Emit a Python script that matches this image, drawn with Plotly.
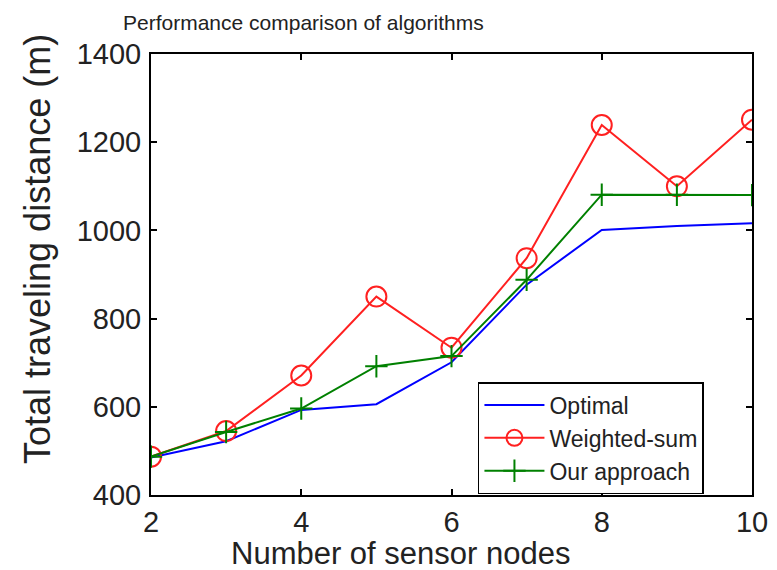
import plotly.graph_objects as go

nodes = [2, 3, 4, 5, 6, 7, 8, 9, 10]
optimal = [485, 522, 593, 606, 701, 877, 1001, 1010, 1016]
weighted_sum = [487, 545, 671, 850, 734, 937, 1239, 1100, 1251]
our_approach = [487, 543, 596, 692, 715, 888, 1081, 1081, 1080]

x_ticks = [2, 4, 6, 8, 10]
y_ticks = [400, 600, 800, 1000, 1200, 1400]

FONT = "Liberation Sans, Arial, Helvetica, sans-serif"

fig = go.Figure()
fig.add_trace(go.Scatter(x=nodes, y=optimal, name="Optimal", mode="lines",
                         line=dict(color="#0000ff", width=2)))
fig.add_trace(go.Scatter(x=nodes, y=weighted_sum, name="Weighted-sum", mode="lines+markers",
                         line=dict(color="#ff2020", width=2),
                         marker=dict(symbol="circle-open", size=20, color="#ff2020",
                                     line=dict(width=2, color="#ff2020"))))
fig.add_trace(go.Scatter(x=nodes, y=our_approach, name="Our approach", mode="lines+markers",
                         line=dict(color="#008000", width=2),
                         marker=dict(symbol="cross-thin-open", size=16, color="#008000",
                                     line=dict(width=2, color="#008000"))))

fig.update_layout(
    width=777, height=570,
    margin=dict(l=151, r=25, t=54, b=75, autoexpand=False),
    paper_bgcolor="white", plot_bgcolor="white",
    font=dict(family=FONT, color="#222222"),
    showlegend=True,
    legend=dict(x=0.544, y=(495 - 382) / 441, xanchor="left", yanchor="top",
                bgcolor="white", bordercolor="black", borderwidth=1.5,
                font=dict(size=23, family=FONT, color="#222222"),
                itemwidth=60, tracegroupgap=0, itemsizing="trace"),
    xaxis=dict(range=[2, 10], tickvals=x_ticks, ticktext=[str(v) for v in x_ticks],
               showgrid=False, zeroline=False, showline=True, linecolor="black", linewidth=2,
               mirror="ticks", ticks="inside", ticklen=6, tickcolor="black", tickwidth=1.5,
               tickfont=dict(size=29, family=FONT, color="#222222")),
    yaxis=dict(range=[400, 1400], tickvals=y_ticks, ticktext=[str(v) for v in y_ticks],
               showgrid=False, zeroline=False, showline=True, linecolor="black", linewidth=2,
               mirror="ticks", ticks="inside", ticklen=6, tickcolor="black", tickwidth=1.5,
               tickfont=dict(size=29, family=FONT, color="#222222"), ticklabelstandoff=2),
    annotations=[
        dict(text="Performance comparison of algorithms", xref="paper", yref="paper",
             x=(303 - 151) / 601, y=(495 - 22) / 441, xanchor="center", yanchor="middle",
             showarrow=False, font=dict(size=21, family=FONT, color="#222222")),
        dict(text="Number of sensor nodes", xref="paper", yref="paper",
             x=(400 - 151) / 601, y=(495 - 553) / 441, xanchor="center", yanchor="middle",
             showarrow=False, font=dict(size=31, family=FONT, color="#222222")),
        dict(text="Total traveling distance (m)", xref="paper", yref="paper",
             x=(37 - 151) / 601, y=(495 - 249) / 441, xanchor="center", yanchor="middle",
             textangle=-90, showarrow=False, font=dict(size=36, family=FONT, color="#222222")),
    ],
)

fig.write_html("out.html")
